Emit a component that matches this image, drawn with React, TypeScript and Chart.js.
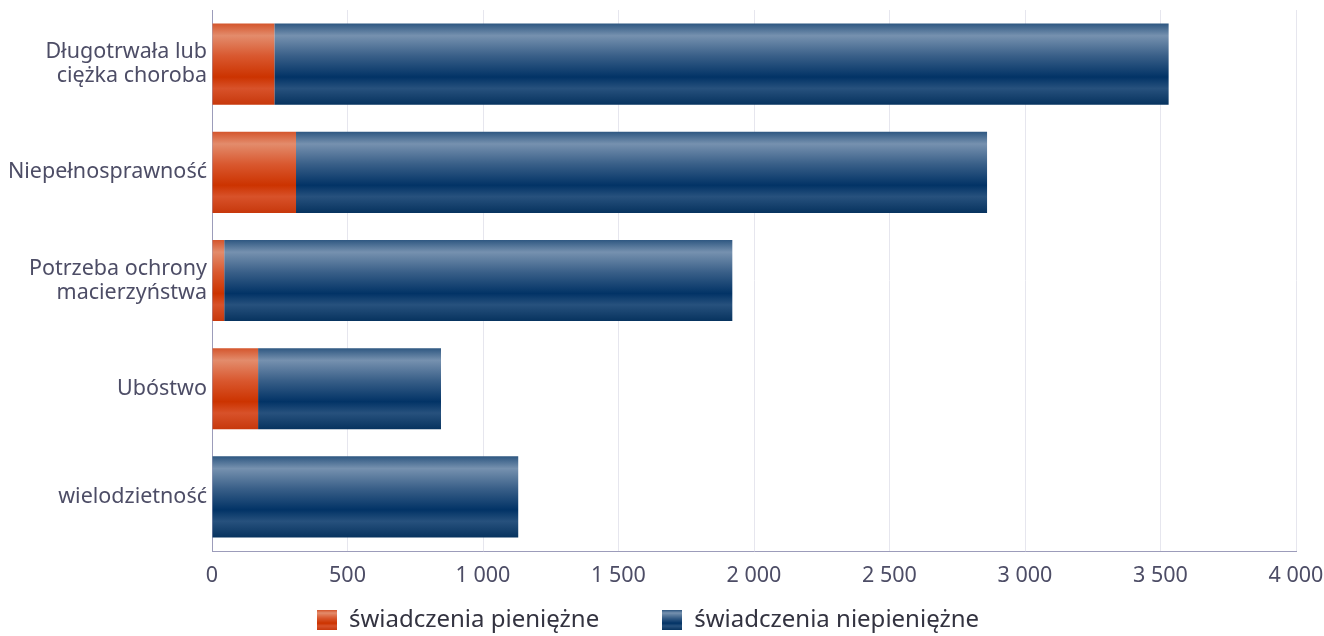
import React, { useEffect, useRef } from "react";
import { Chart, registerables } from "chart.js";

Chart.register(...registerables);

const categories: (string | string[])[] = [
  ["Długotrwała lub", "ciężka choroba"],
  "Niepełnosprawność",
  ["Potrzeba ochrony", "macierzyństwa"],
  "Ubóstwo",
  "wielodzietność",
];
const seriesNames = ["świadczenia pieniężne", "świadczenia niepieniężne"];
const cashValues = [230, 310, 45, 170, 0];
const nonCashValues = [3300, 2550, 1875, 675, 1130];
const xTicks = [0, 500, 1000, 1500, 2000, 2500, 3000, 3500, 4000];

const orangeStops: [number, string][] = [
  [0, "#d4552c"],
  [0.15, "#e38c6c"],
  [0.4, "#d9582f"],
  [0.66, "#cc3300"],
  [0.8, "#d8522a"],
  [1, "#c7380c"],
];
const blueStops: [number, string][] = [
  [0, "#2e5781"],
  [0.15, "#7691af"],
  [0.4, "#395f88"],
  [0.66, "#023366"],
  [0.8, "#27517d"],
  [1, "#07335f"],
];

const FONT = "'Noto Sans', 'Open Sans', sans-serif";
const LEGEND_PAD = 63;
const LEGEND_FONT = 24;

function barGradient(ctx: any, stops: [number, string][], fallback: string) {
  const chart = ctx.chart;
  const ys = chart.scales && chart.scales.y;
  if (!ys || !chart.chartArea || ctx.type !== "data") return fallback;
  const center = ys.getPixelForValue(ctx.dataIndex);
  const band = (ys.bottom - ys.top) / categories.length;
  const h = band * 0.75;
  const g = chart.ctx.createLinearGradient(0, center - h / 2, 0, center + h / 2);
  stops.forEach(([o, c]) => g.addColorStop(o, c));
  return g;
}

function makeSwatch(stops: [number, string][]) {
  const c = document.createElement("canvas");
  c.width = 20;
  c.height = 20;
  const x = c.getContext("2d")!;
  const g = x.createLinearGradient(0, 0, 0, 20);
  stops.forEach(([o, col]) => g.addColorStop(o, col));
  x.fillStyle = g;
  x.fillRect(0, 0, 20, 20);
  return c;
}

function fmt(v: number) {
  return String(v).replace(/\B(?=(\d{3})+(?!\d))/g, " ");
}

const layoutFix = {
  id: "layoutFix",
  afterLayout(chart: any) {
    const xs = chart.scales.x;
    xs.height = 50;
    xs.bottom = xs.top + 50;
    const L = chart.legend;
    if (L) {
      const desiredTop = 620 - LEGEND_FONT / 2 - LEGEND_PAD;
      const dy = desiredTop - L.top;
      L.top += dy;
      L.bottom += dy;
    }
  },
};

export default function App() {
  const canvasRef = useRef<HTMLCanvasElement | null>(null);

  useEffect(() => {
    document.body.style.margin = "0";
    const swatches = [makeSwatch(orangeStops), makeSwatch(blueStops)];
    const chart = new Chart(canvasRef.current!, {
      type: "bar",
      data: {
        labels: categories as any,
        datasets: [
          {
            label: seriesNames[0],
            data: cashValues,
            backgroundColor: (ctx: any) => barGradient(ctx, orangeStops, "#cc3300"),
            borderWidth: 0,
            barPercentage: 0.75,
            categoryPercentage: 1,
          },
          {
            label: seriesNames[1],
            data: nonCashValues,
            backgroundColor: (ctx: any) => barGradient(ctx, blueStops, "#003366"),
            borderWidth: 0,
            barPercentage: 0.75,
            categoryPercentage: 1,
          },
        ],
      },
      plugins: [layoutFix],
      options: {
        indexAxis: "y",
        animation: false,
        responsive: true,
        maintainAspectRatio: false,
        layout: { padding: { left: 0, right: 28, top: 10, bottom: -12 } },
        scales: {
          x: {
            stacked: true,
            min: 0,
            max: 4000,
            afterBuildTicks: (s: any) => {
              s.ticks = xTicks.map((v) => ({ value: v }));
            },
            afterFit: (s: any) => {
              s.height = 0;
              s.paddingLeft = 0;
              s.paddingRight = 0;
            },
            grid: { color: "#e6e6ee", lineWidth: 1, drawTicks: false },
            border: { color: "#9c9cba", width: 1 },
            ticks: {
              padding: 12,
              color: "#4d4d66",
              maxRotation: 0,
              autoSkip: false,
              font: { family: FONT, size: 21.5 },
              callback: (v: any) => fmt(Number(v)),
            },
          },
          y: {
            stacked: true,
            afterFit: (s: any) => {
              s.width = 212;
              s.paddingTop = 0;
              s.paddingBottom = 0;
            },
            grid: { display: false, drawTicks: false },
            border: { color: "#9c9cba", width: 1 },
            ticks: {
              padding: 5,
              color: "#4d4d66",
              autoSkip: false,
              font: { family: FONT, size: 21.5, lineHeight: 1.12 },
            },
          },
        },
        plugins: {
          tooltip: { enabled: false },
          legend: {
            position: "bottom",
            labels: {
              usePointStyle: true,
              boxWidth: 20,
              boxHeight: 20,
              padding: LEGEND_PAD,
              color: "#333340",
              font: { family: FONT, size: LEGEND_FONT },
              generateLabels: (ch: any) =>
                ch.data.datasets.map((ds: any, i: number) => ({
                  text: ds.label,
                  fillStyle: i === 0 ? "#cc3300" : "#003366",
                  strokeStyle: "transparent",
                  lineWidth: 0,
                  pointStyle: swatches[i],
                  datasetIndex: i,
                  hidden: false,
                  fontColor: "#333340",
                })),
            },
          },
        },
      },
    } as any);
    return () => chart.destroy();
  }, []);

  return (
    <div style={{ width: 1324, height: 636, position: "relative" }}>
      <canvas ref={canvasRef} />
    </div>
  );
}
